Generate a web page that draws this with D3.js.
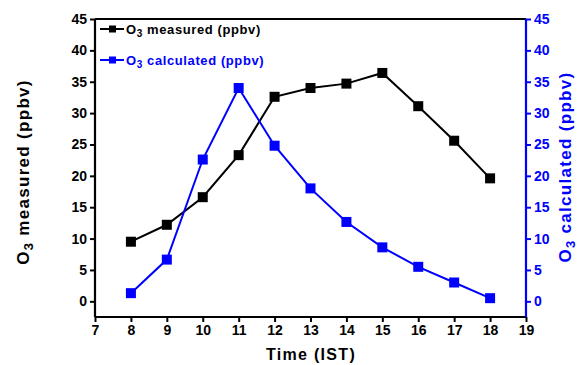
<!DOCTYPE html>
<html><head><meta charset="utf-8">
<script src="https://cdn.jsdelivr.net/npm/d3@7"></script>
<style>body{margin:0;background:#fff}svg{display:block;font-family:"Liberation Sans",Arial,sans-serif;font-weight:bold}</style>
</head><body><svg id="c" width="579" height="365"></svg>
<script>
const hours = [8,9,10,11,12,13,14,15,16,17,18];
const measured = [9.5,12.2,16.6,23.3,32.6,34.0,34.7,36.4,31.1,25.6,19.6];
const calculated = [1.3,6.65,22.6,34.0,24.8,18.0,12.65,8.6,5.5,3.0,0.5];
const xTicks = [7,8,9,10,11,12,13,14,15,16,17,18,19];
const yTicks = [0,5,10,15,20,25,30,35,40,45];

const svg = d3.select("#c");
const L=95,R=526,T=19,B=317;
const x = d3.scaleLinear().domain([7,19]).range([L,R]);
const y = d3.scaleLinear().domain([-2.5,45]).range([B,T]);
const blue="#0000ff";

svg.append("line").attr("x1",L).attr("x2",R).attr("y1",T).attr("y2",T).attr("stroke","#000").attr("stroke-width",2);

const gx = svg.append("g").attr("transform",`translate(0,${B})`)
  .call(d3.axisBottom(x).tickValues(xTicks).tickSize(5).tickPadding(3).tickFormat(d3.format("d")));
const gl = svg.append("g").attr("transform",`translate(${L},0)`)
  .call(d3.axisLeft(y).tickValues(yTicks).tickSize(5).tickPadding(3));
const gr = svg.append("g").attr("transform",`translate(${R},0)`)
  .call(d3.axisRight(y).tickValues(yTicks).tickSize(5).tickPadding(3));
[gx,gl].forEach(g=>{g.select(".domain").attr("stroke","#000").attr("stroke-width",2.2);
  g.selectAll(".tick line").attr("stroke","#000").attr("stroke-width",2);
  g.selectAll("text").attr("fill","#000").style("font-size","14px").style("font-weight","bold").style("font-family","Liberation Sans, Arial");});
gr.select(".domain").attr("stroke",blue).attr("stroke-width",2.2);
gr.selectAll(".tick line").attr("stroke",blue).attr("stroke-width",2);
gr.selectAll("text").attr("fill",blue).style("font-size","14px").style("font-weight","bold").style("font-family","Liberation Sans, Arial");
gx.selectAll(".domain").attr("d",`M${L},0H${R}`);
gl.selectAll(".domain").attr("d",`M0,${T}V${B}`);
gr.selectAll(".domain").attr("d",`M0,${T}V${B}`);

function series(vals,color){
  const line=d3.line().x((d,i)=>x(hours[i])).y(d=>y(d));
  svg.append("path").datum(vals).attr("d",line).attr("fill","none").attr("stroke",color).attr("stroke-width",2);
  svg.append("g").selectAll("rect").data(vals).join("rect")
    .attr("x",(d,i)=>x(hours[i])-5).attr("y",d=>y(d)-5).attr("width",10).attr("height",10).attr("fill",color);
}
series(measured,"#000");
series(calculated,blue);

function legend(yy,color,label){
  svg.append("line").attr("x1",100).attr("x2",124).attr("y1",yy).attr("y2",yy).attr("stroke",color).attr("stroke-width",2);
  svg.append("rect").attr("x",109).attr("y",yy-3.5).attr("width",7).attr("height",7).attr("fill",color);
  const t=svg.append("text").attr("x",126).attr("y",yy+4.5).attr("fill",color).style("font-size","13px").style("letter-spacing","0.6px");
  t.append("tspan").text("O");
  t.append("tspan").attr("dy",3).style("font-size","10px").text("3");
  t.append("tspan").attr("dy",-3).text(" "+label);
}
legend(29,"#000","measured (ppbv)");
legend(60,blue,"calculated (ppbv)");

svg.append("text").attr("x",311).attr("y",360).attr("text-anchor","middle").style("font-size","16px").style("letter-spacing","1.3px").text("Time (IST)");
function ytitle(cx,cy,color,label){
  const t=svg.append("text").attr("transform",`translate(${cx},${cy}) rotate(-90)`).attr("text-anchor","middle").attr("fill",color).style("font-size","17px").style("letter-spacing","1.3px");
  t.append("tspan").text("O");
  t.append("tspan").attr("dy",4).style("font-size","13px").text("3");
  t.append("tspan").attr("dy",-4).text(" "+label);
}
ytitle(29,172,"#000","measured (ppbv)");
ytitle(571,167,blue,"calculated (ppbv)");
</script></body></html>
